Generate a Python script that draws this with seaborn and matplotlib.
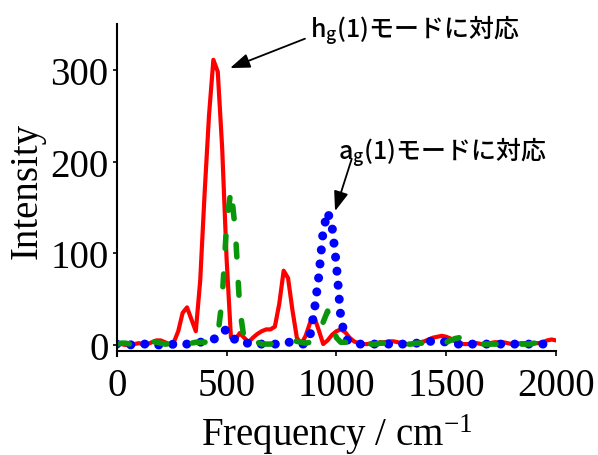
import numpy as np
import matplotlib
matplotlib.use("Agg")
import matplotlib.pyplot as plt
import seaborn as sns

# sampling grid of the spectra (cm^-1)
freq = np.arange(0, 2001, 20)

# solid red spectrum
red_int = [2, 1, 0, 0, 1, 2, 1, 1, 3, 5,
           5, 3, 1, 3, 15, 35, 41, 28, 15, 70,
           165, 250, 311, 298, 215, 95, 8, 6, 13, 8,
           3, 8, 12, 15, 17, 17, 20, 45, 81, 73,
           38, 8, 1, 10, 24, 30, 16, 1, 5, 11,
           15, 17, 14, 8, 4, 2, 1, 1, 2, 2,
           3, 3, 4, 4, 3, 2, 1, 1, 2, 3,
           4, 6, 8, 9, 10, 9, 7, 4, 2, 1,
           1, 2, 2, 1, 1, 2, 3, 3, 3, 2,
           1, 1, 2, 2, 2, 2, 2, 3, 5, 6,
           5]

# dashed green spectrum
green_int = [1, 2, 2, 1, 0, 1, 2, 3, 4, 3,
             2, 1, 1, 1, 2, 2, 2, 2, 3, 3,
             3, 4, 6, 10, 50, 130, 170, 125, 40, 6,
             11, 8, 3, 1, 1, 1, 2, 3, 4, 5,
             5, 4, 3, 2, 3, 8, 14, 25, 37, 24,
             8, 3, 3, 2, 1, 1, 1, 1, 1, 1,
             2, 2, 2, 2, 2, 1, 1, 1, 2, 2,
             2, 2, 2, 2, 2, 3, 5, 7, 8, 7,
             4, 2, 1, 1, 1, 1, 1, 1, 1, 1,
             1, 1, 1, 1, 1, 2, 2, 2, 2, 2,
             2]

# dotted blue spectrum
blue_int = [1, 1, 0, 0, 1, 1, 1, 1, 1, 0,
            0, 0, 0, 1, 1, 1, 1, 2, 2, 3,
            4, 5, 6, 9, 14, 17, 12, 5, 3, 2,
            2, 2, 1, 1, 0, 0, 1, 1, 2, 3,
            3, 2, 1, 1, 10, 38, 75, 125, 145, 130,
            88, 30, 8, 3, 2, 1, 1, 1, 1, 1,
            1, 1, 1, 1, 1, 1, 1, 1, 2, 2,
            3, 4, 4, 4, 4, 3, 2, 1, 1, 1,
            1, 1, 1, 1, 1, 1, 1, 1, 1, 1,
            1, 1, 1, 1, 1, 1, 1, 1, 1, 1,
            1]

x_ticks = [0, 500, 1000, 1500, 2000]
y_ticks = [0, 100, 200, 300]
note_h = r"h$_\mathregular{g}$(1)モードに対応"
note_a = r"a$_\mathregular{g}$(1)モードに対応"

sns.set_style("ticks")
plt.rcParams["font.family"] = ["Liberation Serif", "DejaVu Serif"]
plt.rcParams["mathtext.fontset"] = "custom"
plt.rcParams["mathtext.rm"] = "Liberation Serif"
plt.rcParams["mathtext.it"] = "Liberation Serif:italic"
plt.rcParams["text.color"] = "black"
plt.rcParams["axes.labelcolor"] = "black"
plt.rcParams["xtick.color"] = "black"
plt.rcParams["ytick.color"] = "black"

fig = plt.figure(figsize=(5.98, 4.56), dpi=100)
ax = fig.add_axes([0.1952, 0.2171, 0.7346, 0.728])

sns.lineplot(x=freq, y=red_int, color="#ff0000", lw=3, ax=ax)
sns.lineplot(x=freq, y=blue_int, color="#0000ff", lw=6.5,
             linestyle=(0, (0.01, 1.55)), dash_capstyle="round", ax=ax)
sns.lineplot(x=freq, y=green_int, color="#0a960a", lw=4,
             linestyle=(0, (2.3, 4.6)), dash_capstyle="round", ax=ax)

ax.set_xlim(0, 2000)
ax.set_ylim(-12, 350)
ax.spines["bottom"].set_position(("data", -7))
for s in ["top", "right"]:
    ax.spines[s].set_visible(False)
for s in ["left", "bottom"]:
    ax.spines[s].set_linewidth(1.5)
    ax.spines[s].set_color("black")

ax.set_xticks(x_ticks)
ax.set_yticks(y_ticks)
ax.tick_params(axis="x", direction="out", length=3.5, width=1.2, labelsize=28, pad=7.5)
ax.tick_params(axis="y", direction="out", length=3, width=1.2, labelsize=28, pad=3)
ax.set_xlabel(r"Frequency / cm$^{\mathregular{-1}}$", fontsize=28, labelpad=5.5)
ax.set_ylabel("Intensity", fontsize=28, labelpad=3)

arrow = dict(arrowstyle="-|>,head_length=0.6,head_width=0.22", color="black",
             lw=1.3, shrinkA=0, shrinkB=0, mutation_scale=20)
ax.annotate("", xy=(516, 302), xytext=(857, 334), arrowprops=arrow)
ax.annotate("", xy=(994, 146), xytext=(1070, 203), arrowprops=arrow)
ax.text(880, 337, note_h, fontsize=18, family=["Noto Sans CJK JP"],
        weight="medium", ha="left", va="baseline")
ax.text(1009, 204, note_a, fontsize=18, family=["Noto Sans CJK JP"],
        weight="medium", ha="left", va="baseline")

plt.savefig("out.png", dpi=100)
plt.close()
